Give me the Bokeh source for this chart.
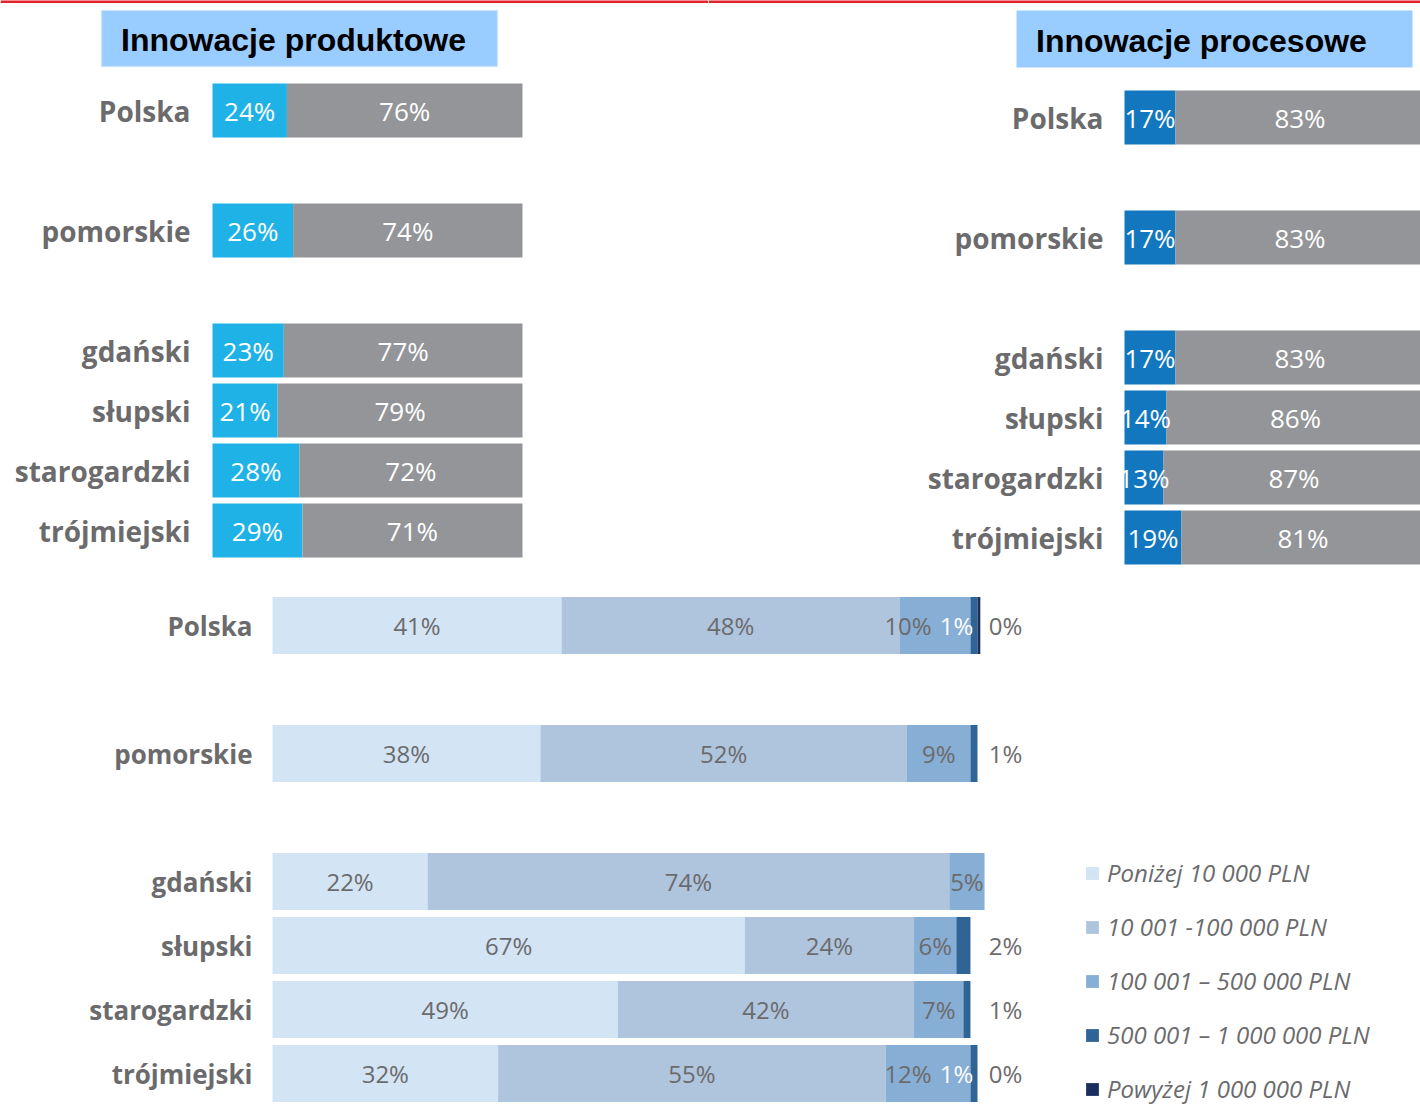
from bokeh.plotting import figure
from bokeh.models import (ColumnDataSource, Range1d, Label, BoxAnnotation, Legend,
                          LegendItem, Span)
from bokeh.layouts import column, row
from bokeh.embed import file_html
from bokeh.resources import INLINE
from bokeh.core.properties import value

# ---------------- data ----------------
regions = ["Polska", "pomorskie", "gdański", "słupski", "starogardzki", "trójmiejski"]

prod_yes = [24, 26, 23, 21, 28, 29]
prod_no = [76, 74, 77, 79, 72, 71]

proc_yes = [17, 17, 17, 14, 13, 19]
proc_no = [83, 83, 83, 86, 87, 81]

spend_names = ["Poniżej 10 000 PLN", "10 001 -100 000 PLN", "100 001 – 500 000 PLN",
               "500 001 – 1 000 000 PLN", "Powyżej 1 000 000 PLN"]
spend_lt10k = [41, 38, 22, 67, 49, 32]
spend_10k_100k = [48, 52, 74, 24, 42, 55]
spend_100k_500k = [10, 9, 5, 6, 7, 12]
spend_500k_1m = [1, 1, None, 2, 1, 1]
spend_gt1m = [0.4, None, None, None, None, 0]

# ---------------- styles ----------------
FONT = value("Open Sans")
TITLE_FONT = "Liberation Sans"
GRAY_TXT = "#6b6b6d"
PROD_COLOR = "#1fb2e6"
PROC_COLOR = "#1277be"
NO_COLOR = "#939598"
SPEND_COLORS = ["#d3e4f4", "#afc4dd", "#87aed4", "#2f6496", "#1b2f5f"]
TITLE_BG = "#99ccff"
RED = "#e3232b"


def row_slots(names):
    # the national and the regional row are each followed by one empty row
    out, s = [], 0
    for i, _ in enumerate(names):
        out.append(s)
        s += 2 if i < 2 else 1
    return out


def base_fig(width, height, zero_px, ppp, first_row_px, row_px):
    xr = Range1d(-zero_px / ppp, (width - zero_px) / ppp)
    yr = Range1d(start=(height - first_row_px) / row_px, end=-first_row_px / row_px)
    p = figure(width=width, height=height, x_range=xr, y_range=yr,
               x_axis_location=None, y_axis_location=None,
               toolbar_location=None, output_backend="svg", min_border=0)
    p.grid.visible = False
    p.outline_line_color = None
    p.background_fill_color = "white"
    p.border_fill_color = "white"
    return p


def top_panel(title, yes, no, yes_color, width, height, zero_px, ppp, first_row_px,
              row_px, label_px, box_px, text_px, box_line, cat_size):
    p = base_fig(width, height, zero_px, ppp, first_row_px, row_px)
    fx = lambda px: (px - zero_px) / ppp
    fy = lambda py: (py - first_row_px) / row_px
    ys = row_slots(regions)
    src = ColumnDataSource(dict(y=ys, yes=yes, no=no, name=regions,
                                yes_c=[v / 2 for v in yes],
                                no_c=[a + b / 2 for a, b in zip(yes, no)],
                                yes_t=[f"{v}%" for v in yes],
                                no_t=[f"{v}%" for v in no]))
    p.hbar_stack(["yes", "no"], y="y", height=0.9, color=[yes_color, NO_COLOR],
                 line_color=None, source=src)
    p.text(x="yes_c", y="y", text="yes_t", source=src, text_color="white",
           text_font=FONT, text_font_size="26px", text_align="center",
           text_baseline="middle")
    p.text(x="no_c", y="y", text="no_t", source=src, text_color="white",
           text_font=FONT, text_font_size="26px", text_align="center",
           text_baseline="middle")
    p.text(x=fx(label_px), y="y", text="name", source=src, text_color=GRAY_TXT,
           text_font=FONT, text_font_style="bold", text_font_size=cat_size,
           text_align="right", text_baseline="middle")
    # red rule along the top of the page
    p.add_layout(Span(location=fy(1), dimension="width", line_color=RED, line_width=3))
    # title box
    p.add_layout(BoxAnnotation(left=fx(box_px[0]), right=fx(box_px[1]),
                               top=fy(box_px[2]), bottom=fy(box_px[3]),
                               fill_color=TITLE_BG, fill_alpha=1.0,
                               line_color=box_line, line_width=2))
    p.add_layout(Label(x=fx(text_px[0]), y=fy(text_px[1]), text=title,
                       text_font=TITLE_FONT, text_font_style="bold",
                       text_font_size="32px", text_color="black",
                       text_align="center", text_baseline="middle"))
    return p


left = top_panel("Innowacje produktowe", prod_yes, prod_no, PROD_COLOR,
                 width=708, height=572, zero_px=212, ppp=3.1, first_row_px=110,
                 row_px=60, label_px=190, box_px=(101, 497, 10, 66),
                 text_px=(293, 39), box_line="#c2e2f4", cat_size="28px")
right = top_panel("Innowacje procesowe", proc_yes, proc_no, PROC_COLOR,
                  width=712, height=572, zero_px=416, ppp=3.0, first_row_px=117,
                  row_px=60, label_px=395, box_px=(308, 704, 10, 67),
                  text_px=(493, 40), box_line=None, cat_size="28px")

# ---------------- bottom panel ----------------
BW, BH, BZ, BPPP, BFR, BROW = 1420, 536, 272, 7.05, 53, 64
pb = base_fig(BW, BH, BZ, BPPP, BFR, BROW)
fxb = lambda px: (px - BZ) / BPPP

series = [spend_lt10k, spend_10k_100k, spend_100k_500k, spend_500k_1m, spend_gt1m]
ys = row_slots(regions)
data = dict(y=ys, name=regions)
keys = []
for k, s in enumerate(series):
    data[f"s{k}"] = [0 if v is None else v for v in s]
    keys.append(f"s{k}")
bsrc = ColumnDataSource(data)
rends = pb.hbar_stack(keys, y="y", height=0.89, color=SPEND_COLORS, line_color=None,
                      source=bsrc)

# value labels
groups = {"center": ([], [], []), "right": ([], [], []), "white": ([], [], []),
          "out": ([], [], [])}
OUT_X = 101.6
for i in range(len(regions)):
    vals = [s[i] for s in series]
    has5 = vals[4] is not None
    cum = 0.0
    for k, v in enumerate(vals):
        if v is None:
            continue
        lo, hi = cum, cum + v
        cum = hi
        txt = f"{v:.0f}%"
        if k < 2:
            g, x = "center", (lo + hi) / 2
        elif k == 2:
            if has5:
                g, x = "right", hi - 5.5
            else:
                g, x = "center", (lo + hi) / 2
        elif k == 3:
            if has5:
                g, x = "white", hi - 0.6
            else:
                g, x = "out", OUT_X
        else:
            g, x = "out", OUT_X
        groups[g][0].append(x)
        groups[g][1].append(ys[i])
        groups[g][2].append(txt)

for g, align, color in [("center", "center", GRAY_TXT), ("right", "right", GRAY_TXT),
                        ("white", "right", "white"), ("out", "left", GRAY_TXT)]:
    xs, yv, tx = groups[g]
    pb.text(x=xs, y=yv, text=tx, text_color=color, text_font=FONT,
            text_font_size="24px", text_align=align, text_baseline="middle")

pb.text(x=fxb(252), y="y", text="name", source=bsrc, text_color=GRAY_TXT,
        text_font=FONT, text_font_style="bold", text_font_size="26px",
        text_align="right", text_baseline="middle")

legend = Legend(items=[LegendItem(label=n, renderers=[r]) for n, r in zip(spend_names, rends)],
                location=(1084, 3), orientation="vertical",
                glyph_width=16, glyph_height=16, label_standoff=7,
                spacing=21, padding=0, margin=0, border_line_color=None,
                background_fill_alpha=0, label_text_font="Open Sans",
                label_text_font_style="italic", label_text_font_size="24px",
                label_text_color=GRAY_TXT)
pb.add_layout(legend, "center")

layout = column(row(left, right), pb)
open("out.html", "w").write(file_html(layout, INLINE))
